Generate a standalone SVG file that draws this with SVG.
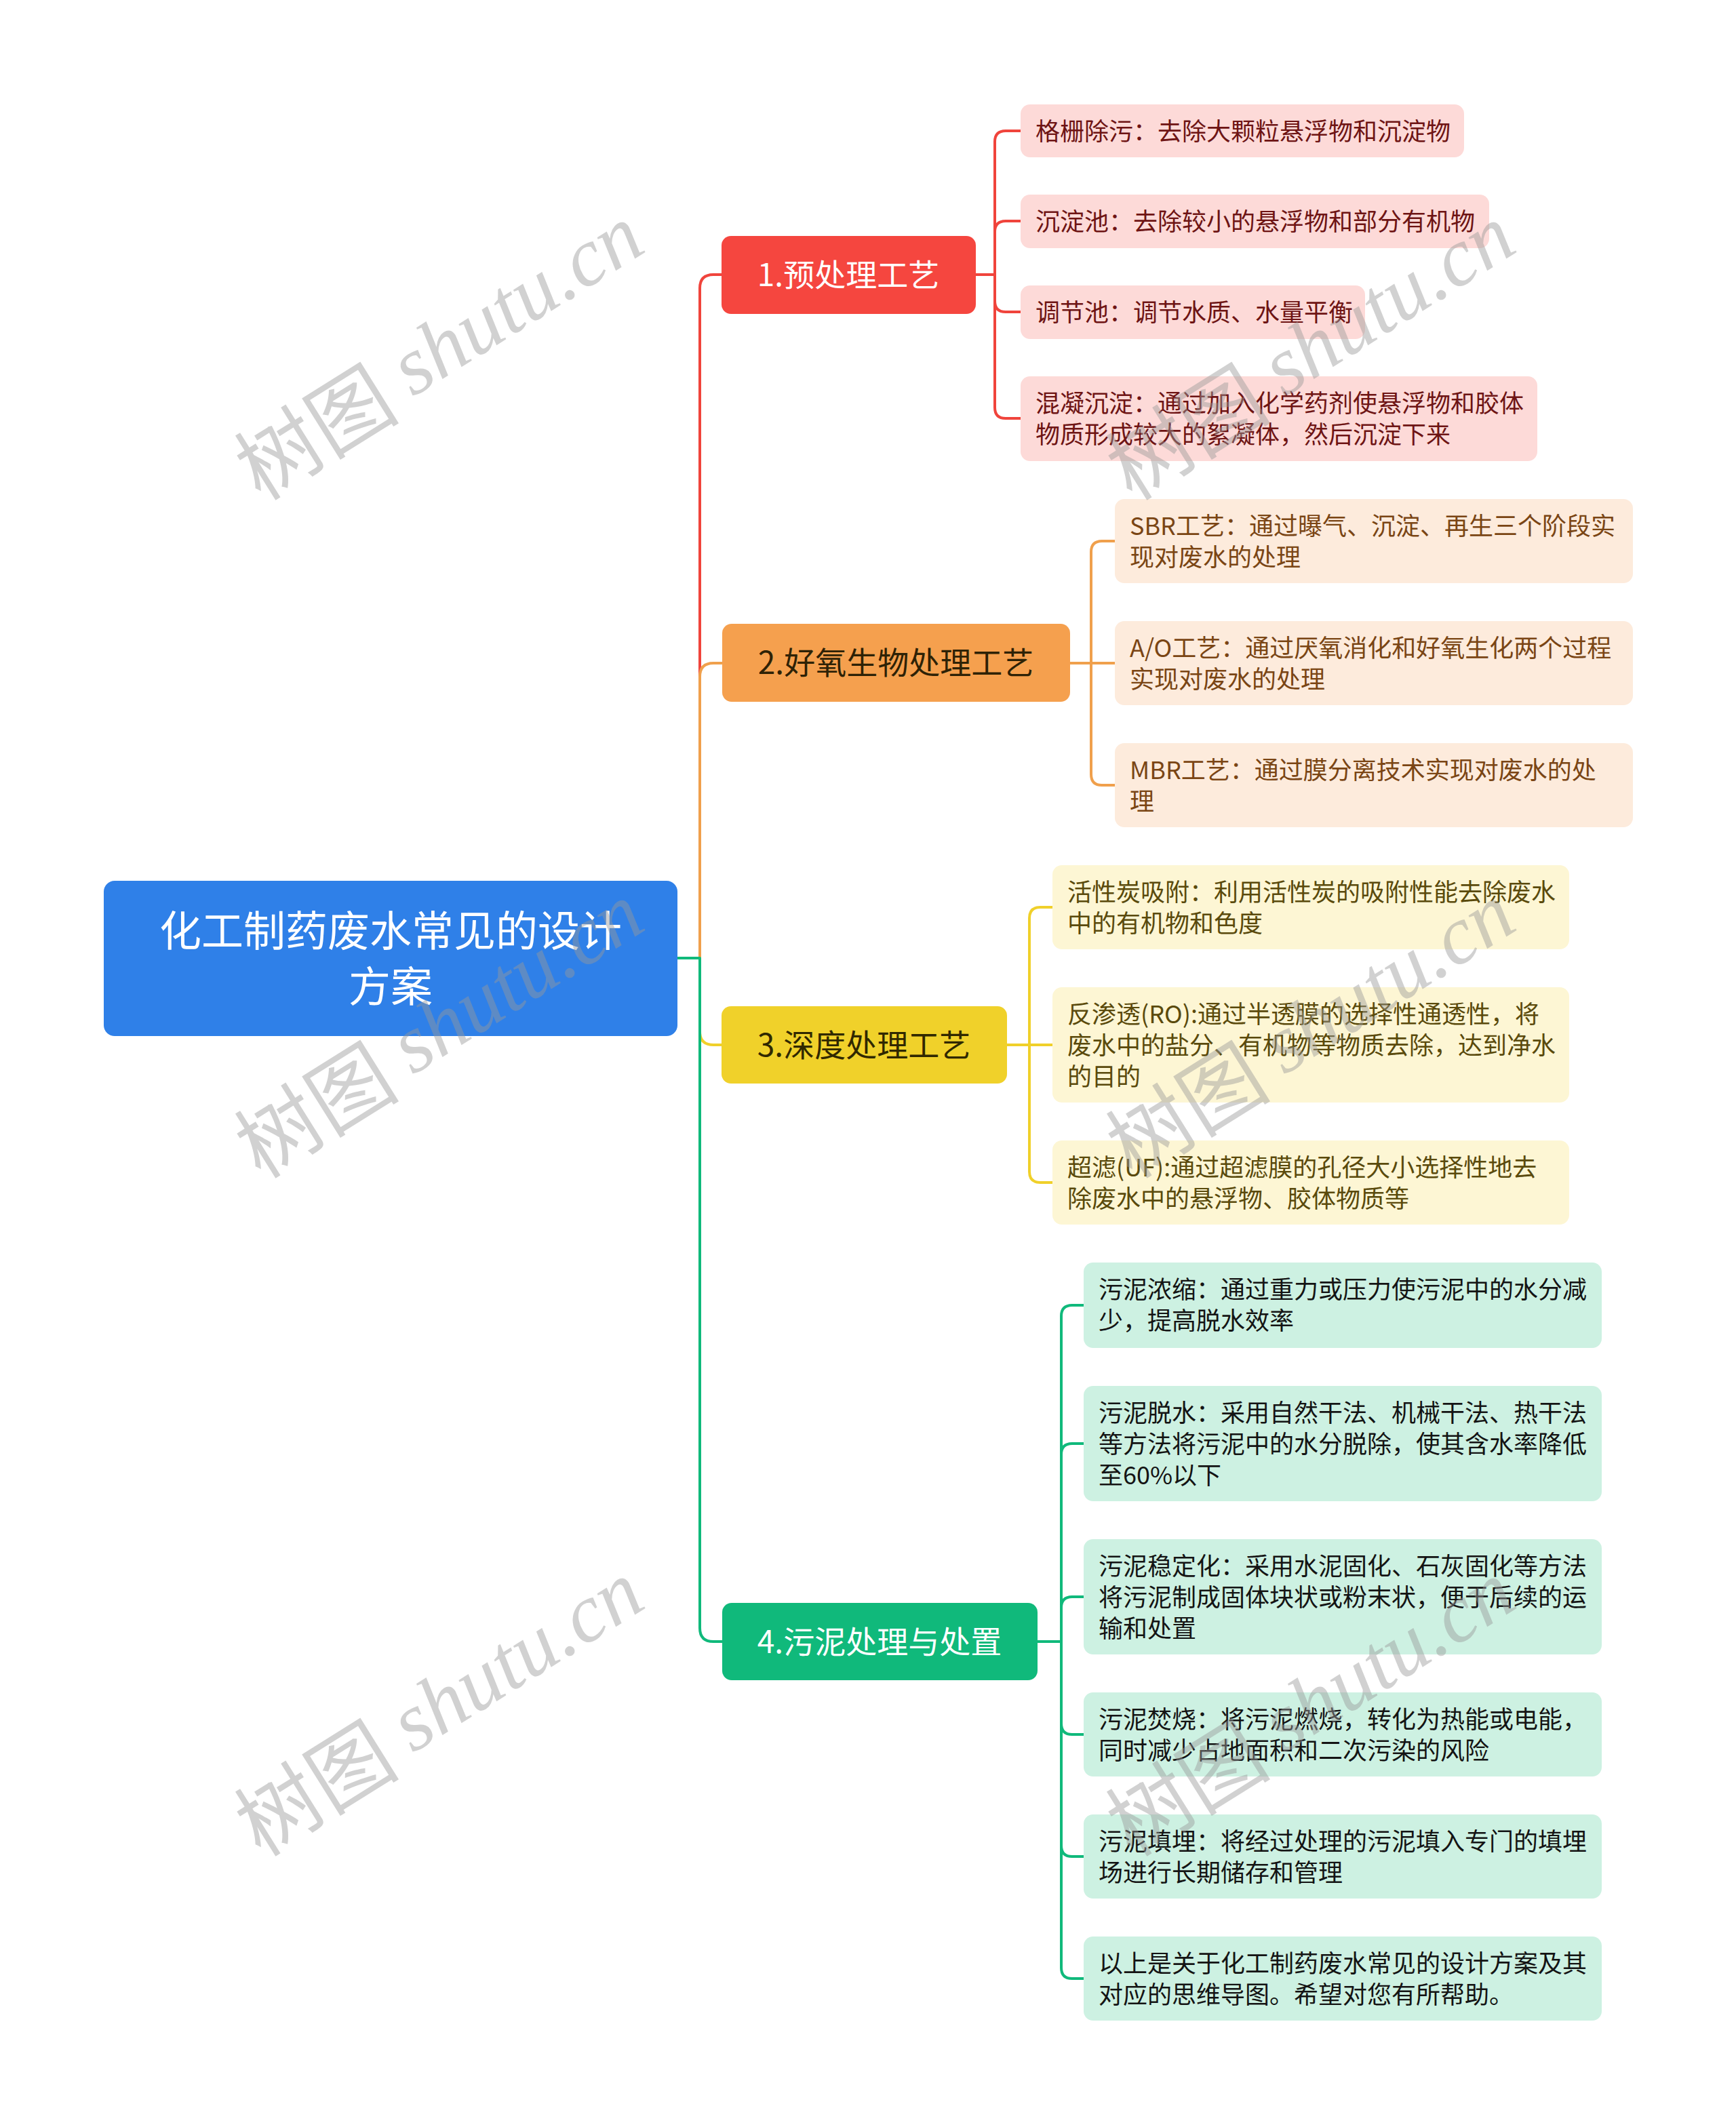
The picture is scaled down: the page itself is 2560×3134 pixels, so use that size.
<svg xmlns="http://www.w3.org/2000/svg" width="2560" height="3134" viewBox="0 0 2560 3134">
<style>
text{font-family:"Noto Sans CJK SC","Noto Sans",sans-serif;dominant-baseline:central}
.conn path{fill:none;stroke-width:4;stroke-linecap:round;stroke-linejoin:round}
.cr{stroke:#f0443c}.co{stroke:#f0a04c}.cy{stroke:#f0d02a}.cg{stroke:#10b97b}
.br{font-size:46px;text-anchor:middle}
.ch{font-size:36px}
.t1{fill:#6e1414}.t2{fill:#7a4514}.t3{fill:#5a4a0c}.t4{fill:#141414}
.wm{font-size:122px;fill:#9a9a9a;fill-opacity:0.45}
.wm tspan.l{font-family:"Liberation Serif",serif;font-style:italic}
</style>
<rect width="2560" height="3134" fill="#ffffff"/>
<g id="connectors" class="conn">
<path class="cr" d="M999,1413 H1032 V425 Q1032,405 1052,405 H1064"/>
<path class="co" d="M999,1413 H1032 V998 Q1032,978 1052,978 H1065"/>
<path class="cy" d="M999,1413 H1032 V1521 Q1032,1541 1052,1541 H1064"/>
<path class="cg" d="M999,1413 H1032 V2401 Q1032,2421 1052,2421 H1065"/>
<path class="cr" d="M1439,405 H1467 V209 Q1467,193 1483,193 H1505"/>
<path class="cr" d="M1439,405 H1467 V342 Q1467,326 1483,326 H1505"/>
<path class="cr" d="M1439,405 H1467 V444 Q1467,460 1483,460 H1505"/>
<path class="cr" d="M1439,405 H1467 V601 Q1467,617 1483,617 H1505"/>
<path class="co" d="M1578,978 H1609 V814 Q1609,798 1625,798 H1644"/>
<path class="co" d="M1578,978 H1644"/>
<path class="co" d="M1578,978 H1609 V1142 Q1609,1158 1625,1158 H1644"/>
<path class="cy" d="M1485,1541 H1518 V1354 Q1518,1338 1534,1338 H1552"/>
<path class="cy" d="M1485,1541 H1552"/>
<path class="cy" d="M1485,1541 H1518 V1728 Q1518,1744 1534,1744 H1552"/>
<path class="cg" d="M1530,2421 H1565 V1941 Q1565,1925 1581,1925 H1598"/>
<path class="cg" d="M1530,2421 H1565 V2145 Q1565,2129 1581,2129 H1598"/>
<path class="cg" d="M1530,2421 H1565 V2371 Q1565,2355 1581,2355 H1598"/>
<path class="cg" d="M1530,2421 H1565 V2542 Q1565,2558 1581,2558 H1598"/>
<path class="cg" d="M1530,2421 H1565 V2722 Q1565,2738 1581,2738 H1598"/>
<path class="cg" d="M1530,2421 H1565 V2902 Q1565,2918 1581,2918 H1598"/>
</g>
<g id="root">
<rect x="153" y="1299" width="846" height="229" rx="16" fill="#2f80e8"/>
<text x="576" y="1369" font-size="62" fill="#ffffff" text-anchor="middle">化工制药废水常见的设计</text>
<text x="576" y="1451" font-size="62" fill="#ffffff" text-anchor="middle">方案</text>
</g>
<g id="b1">
<rect x="1064" y="348" width="375" height="115" rx="14" fill="#f5463f"/>
<text class="br" x="1251" y="402" fill="#ffffff">1.预处理工艺</text>
</g>
<g id="b2">
<rect x="1065" y="920" width="513" height="115" rx="14" fill="#f5a04e"/>
<text class="br" x="1321" y="974" fill="#2e2206">2.好氧生物处理工艺</text>
</g>
<g id="b3">
<rect x="1064" y="1484" width="421" height="114" rx="14" fill="#f0d12a"/>
<text class="br" x="1274" y="1538" fill="#302800">3.深度处理工艺</text>
</g>
<g id="b4">
<rect x="1065" y="2364" width="465" height="114" rx="14" fill="#10b97b"/>
<text class="br" x="1297" y="2418" fill="#ffffff">4.污泥处理与处置</text>
</g>
<g id="c1"><rect x="1505" y="154" width="654" height="78" rx="14" fill="#fddad8"/>
<text class="ch t1" x="1527" y="191">格栅除污：去除大颗粒悬浮物和沉淀物</text></g>
<g id="c2"><rect x="1505" y="287" width="691" height="79" rx="14" fill="#fddad8"/>
<text class="ch t1" x="1527" y="324">沉淀池：去除较小的悬浮物和部分有机物</text></g>
<g id="c3"><rect x="1505" y="421" width="508" height="79" rx="14" fill="#fddad8"/>
<text class="ch t1" x="1527" y="458">调节池：调节水质、水量平衡</text></g>
<g id="c4"><rect x="1505" y="555" width="762" height="125" rx="14" fill="#fddad8"/>
<text class="ch t1" x="1527" y="592">混凝沉淀：通过加入化学药剂使悬浮物和胶体</text>
<text class="ch t1" x="1527" y="638">物质形成较大的絮凝体，然后沉淀下来</text></g>
<g id="s1"><rect x="1644" y="736" width="764" height="124" rx="14" fill="#fdebdc"/>
<text class="ch t2" x="1666" y="773">SBR工艺：通过曝气、沉淀、再生三个阶段实</text>
<text class="ch t2" x="1666" y="819">现对废水的处理</text></g>
<g id="s2"><rect x="1644" y="916" width="764" height="124" rx="14" fill="#fdebdc"/>
<text class="ch t2" x="1666" y="953">A/O工艺：通过厌氧消化和好氧生化两个过程</text>
<text class="ch t2" x="1666" y="999">实现对废水的处理</text></g>
<g id="s3"><rect x="1644" y="1096" width="764" height="124" rx="14" fill="#fdebdc"/>
<text class="ch t2" x="1666" y="1133">MBR工艺：通过膜分离技术实现对废水的处</text>
<text class="ch t2" x="1666" y="1179">理</text></g>
<g id="d1"><rect x="1552" y="1276" width="762" height="124" rx="14" fill="#fdf6d4"/>
<text class="ch t3" x="1574" y="1313">活性炭吸附：利用活性炭的吸附性能去除废水</text>
<text class="ch t3" x="1574" y="1359">中的有机物和色度</text></g>
<g id="d2"><rect x="1552" y="1456" width="762" height="170" rx="14" fill="#fdf6d4"/>
<text class="ch t3" x="1574" y="1493">反渗透(RO):通过半透膜的选择性通透性，将</text>
<text class="ch t3" x="1574" y="1539">废水中的盐分、有机物等物质去除，达到净水</text>
<text class="ch t3" x="1574" y="1585">的目的</text></g>
<g id="d3"><rect x="1552" y="1682" width="762" height="124" rx="14" fill="#fdf6d4"/>
<text class="ch t3" x="1574" y="1719">超滤(UF):通过超滤膜的孔径大小选择性地去</text>
<text class="ch t3" x="1574" y="1765">除废水中的悬浮物、胶体物质等</text></g>
<g id="e1"><rect x="1598" y="1862" width="764" height="126" rx="14" fill="#cdf1e2"/>
<text class="ch t4" x="1620" y="1899">污泥浓缩：通过重力或压力使污泥中的水分减</text>
<text class="ch t4" x="1620" y="1945">少，提高脱水效率</text></g>
<g id="e2"><rect x="1598" y="2044" width="764" height="170" rx="14" fill="#cdf1e2"/>
<text class="ch t4" x="1620" y="2081">污泥脱水：采用自然干法、机械干法、热干法</text>
<text class="ch t4" x="1620" y="2127">等方法将污泥中的水分脱除，使其含水率降低</text>
<text class="ch t4" x="1620" y="2173">至60%以下</text></g>
<g id="e3"><rect x="1598" y="2270" width="764" height="170" rx="14" fill="#cdf1e2"/>
<text class="ch t4" x="1620" y="2307">污泥稳定化：采用水泥固化、石灰固化等方法</text>
<text class="ch t4" x="1620" y="2353">将污泥制成固体块状或粉末状，便于后续的运</text>
<text class="ch t4" x="1620" y="2399">输和处置</text></g>
<g id="e4"><rect x="1598" y="2496" width="764" height="124" rx="14" fill="#cdf1e2"/>
<text class="ch t4" x="1620" y="2533">污泥焚烧：将污泥燃烧，转化为热能或电能，</text>
<text class="ch t4" x="1620" y="2579">同时减少占地面积和二次污染的风险</text></g>
<g id="e5"><rect x="1598" y="2676" width="764" height="124" rx="14" fill="#cdf1e2"/>
<text class="ch t4" x="1620" y="2713">污泥填埋：将经过处理的污泥填入专门的填埋</text>
<text class="ch t4" x="1620" y="2759">场进行长期储存和管理</text></g>
<g id="e6"><rect x="1598" y="2856" width="764" height="124" rx="14" fill="#cdf1e2"/>
<text class="ch t4" x="1620" y="2893">以上是关于化工制药废水常见的设计方案及其</text>
<text class="ch t4" x="1620" y="2939">对应的思维导图。希望对您有所帮助。</text></g>
<g id="watermarks">
<text class="wm" transform="translate(645,514) rotate(-32)" text-anchor="middle">树图 <tspan class="l">shutu.cn</tspan></text>
<text class="wm" transform="translate(1930,514) rotate(-32)" text-anchor="middle">树图 <tspan class="l">shutu.cn</tspan></text>
<text class="wm" transform="translate(645,1514) rotate(-32)" text-anchor="middle">树图 <tspan class="l">shutu.cn</tspan></text>
<text class="wm" transform="translate(1930,1514) rotate(-32)" text-anchor="middle">树图 <tspan class="l">shutu.cn</tspan></text>
<text class="wm" transform="translate(645,2514) rotate(-32)" text-anchor="middle">树图 <tspan class="l">shutu.cn</tspan></text>
<text class="wm" transform="translate(1930,2514) rotate(-32)" text-anchor="middle">树图 <tspan class="l">shutu.cn</tspan></text>
</g>
</svg>
